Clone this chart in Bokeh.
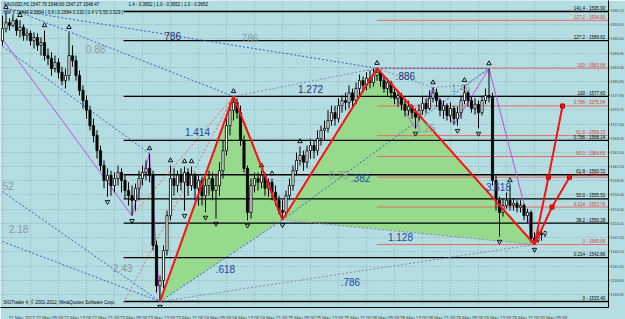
from bokeh.plotting import figure
from bokeh.models import FixedTicker, Label, ColumnDataSource
from bokeh.core.properties import value
from bokeh.embed import file_html
from bokeh.resources import INLINE

# ---------------- data ----------------
opens = [1589.6,1592.2,1593.5,1592.9,1594.0,1591.8,1592.5,1590.7,1591.2,1589.6,
         1590.3,1588.6,1589.2,1586.4,1585.8,1583.6,1584.9,1582.8,1581.0,1582.1,
         1586.4,1585.3,1582.1,1578.9,1576.7,1574.6,1571.3,1569.2,1565.9,1562.7,
         1559.5,1560.6,1558.4,1559.9,1561.2,1559.5,1557.3,1556.2,1555.2,1557.8,
         1559.9,1561.2,1562.1,1560.6,1545.5,1536.8,1537.9,1544.4,1551.9,1559.9,
         1558.4,1560.6,1559.1,1561.2,1558.4,1560.6,1557.8,1559.5,1556.2,1558.4,
         1559.9,1557.3,1558.4,1561.6,1565.9,1571.3,1574.6,1576.3,1574.1,1568.1,
         1562.1,1552.6,1558.4,1559.9,1559.1,1560.6,1557.8,1559.1,1556.9,1555.2,
         1553.0,1552.6,1556.2,1558.4,1561.6,1563.8,1564.9,1563.4,1565.9,1567.0,
         1565.9,1568.5,1570.3,1570.7,1572.4,1574.1,1572.8,1575.6,1576.7,1576.3,
         1578.4,1576.7,1579.3,1581.0,1580.0,1581.5,1580.6,1582.1,1582.8,1581.0,
         1579.3,1580.6,1578.4,1577.2,1577.8,1575.9,1574.6,1575.4,1574.1,1573.1,
         1574.6,1576.1,1575.0,1577.2,1578.4,1576.7,1574.6,1575.6,1573.5,1575.0,
         1572.8,1574.1,1576.7,1578.4,1576.7,1575.0,1575.9,1574.1,1576.7,1577.8,
         1577.4,1559.5,1555.2,1552.6,1554.1,1555.2,1554.1,1554.5,1553.7,1554.1,
         1551.9,1552.6,1547.0,1546.5,1548.1,1547.79]
highs = [1595.0,1595.7,1594.4,1595.3,1594.4,1594.0,1593.1,1592.2,1591.8,1591.4,
         1591.2,1590.3,1591.8,1587.9,1587.1,1586.4,1585.8,1584.0,1583.6,1591.4,
         1588.6,1586.4,1583.2,1580.0,1577.8,1575.6,1572.8,1570.3,1567.0,1563.8,
         1562.1,1561.6,1561.2,1562.7,1562.1,1560.6,1559.1,1558.4,1558.8,1561.6,
         1562.7,1563.8,1565.3,1561.6,1546.5,1539.0,1545.5,1553.0,1562.7,1562.1,
         1561.6,1562.1,1562.5,1562.1,1562.5,1561.2,1560.6,1560.3,1559.9,1561.6,
         1561.2,1560.6,1563.4,1568.1,1572.8,1576.3,1577.6,1577.2,1575.6,1569.2,
         1562.7,1559.9,1561.2,1561.2,1561.6,1561.2,1559.9,1559.9,1558.4,1556.2,
         1555.2,1557.3,1559.9,1562.7,1565.5,1566.8,1565.9,1567.0,1568.5,1568.1,
         1570.3,1571.3,1572.4,1574.6,1575.6,1575.6,1577.2,1577.8,1578.4,1580.0,
         1579.3,1580.6,1582.3,1581.9,1582.8,1583.2,1583.6,1583.68,1583.2,1581.9,
         1581.5,1581.0,1579.7,1578.9,1578.4,1576.7,1576.7,1575.9,1575.0,1575.9,
         1577.6,1577.2,1578.9,1579.5,1579.3,1577.2,1576.7,1576.1,1576.3,1575.6,
         1575.4,1577.8,1580.0,1578.9,1577.6,1577.2,1576.7,1577.8,1579.3,1583.6,
         1578.4,1560.6,1556.0,1555.6,1556.9,1558.4,1555.6,1555.2,1555.2,1554.5,
         1553.4,1553.0,1548.3,1549.1,1548.7,1548.60]
lows = [1588.6,1591.4,1591.8,1592.5,1590.7,1590.3,1589.6,1589.6,1588.6,1587.9,
        1587.5,1586.4,1585.3,1584.3,1582.1,1582.8,1581.5,1580.0,1579.3,1581.0,
        1584.0,1581.0,1577.8,1575.0,1572.8,1570.3,1567.7,1564.2,1561.6,1557.8,
        1556.0,1556.2,1556.9,1558.4,1556.9,1555.6,1554.1,1551.9,1553.0,1555.2,
        1558.4,1559.5,1559.1,1544.4,1535.3,1533.4,1536.2,1543.3,1550.9,1556.2,
        1556.9,1557.3,1553.0,1556.2,1557.3,1555.2,1554.1,1554.1,1552.6,1556.2,
        1555.2,1551.3,1556.2,1559.9,1564.9,1569.2,1572.4,1572.8,1567.0,1561.2,
        1550.9,1551.3,1556.9,1557.3,1557.8,1556.2,1556.0,1555.2,1554.1,1552.2,
        1551.0,1551.9,1555.2,1557.3,1560.6,1562.7,1561.6,1562.1,1564.2,1564.2,
        1564.9,1567.0,1568.1,1569.8,1571.3,1571.3,1572.0,1574.1,1574.6,1575.0,
        1575.0,1575.9,1577.8,1578.4,1578.9,1579.3,1579.7,1581.0,1579.7,1578.4,
        1577.8,1577.2,1575.9,1575.4,1574.6,1573.3,1573.5,1572.8,1570.7,1572.4,
        1573.7,1573.9,1574.6,1576.3,1575.4,1573.3,1572.8,1572.4,1572.0,1571.5,
        1571.3,1572.8,1575.9,1575.4,1574.1,1573.7,1570.7,1573.5,1575.9,1576.3,
        1558.4,1553.0,1547.4,1551.7,1553.4,1553.0,1553.0,1552.6,1552.6,1550.9,
        1550.4,1546.1,1545.68,1546.0,1546.5,1547.27]
closes = [1592.2,1593.5,1592.9,1594.0,1591.8,1592.5,1590.7,1591.2,1589.6,1590.3,
          1588.6,1589.2,1586.4,1585.8,1583.6,1584.9,1582.8,1581.0,1582.1,1586.4,
          1585.3,1582.1,1578.9,1576.7,1574.6,1571.3,1569.2,1565.9,1562.7,1559.5,
          1560.6,1558.4,1559.9,1561.2,1559.5,1557.3,1556.2,1555.2,1557.8,1559.9,
          1561.2,1562.1,1560.6,1545.5,1536.8,1537.9,1544.4,1551.9,1559.9,1558.4,
          1560.6,1559.1,1561.2,1558.4,1560.6,1557.8,1559.5,1556.2,1558.4,1559.9,
          1557.3,1558.4,1561.6,1565.9,1571.3,1574.6,1576.3,1574.1,1568.1,1562.1,
          1552.6,1558.4,1559.9,1559.1,1560.6,1557.8,1559.1,1556.9,1555.2,1553.0,
          1552.6,1556.2,1558.4,1561.6,1563.8,1564.9,1563.4,1565.9,1567.0,1565.9,
          1568.5,1570.3,1570.7,1572.4,1574.1,1572.8,1575.6,1576.7,1576.3,1578.4,
          1576.7,1579.3,1581.0,1580.0,1581.5,1580.6,1582.1,1582.8,1581.0,1579.3,
          1580.6,1578.4,1577.2,1577.8,1575.9,1574.6,1575.4,1574.1,1573.1,1574.6,
          1576.1,1575.0,1577.2,1578.4,1576.7,1574.6,1575.6,1573.5,1575.0,1572.8,
          1574.1,1576.7,1578.4,1576.7,1575.0,1575.9,1574.1,1576.7,1577.8,1577.4,
          1559.5,1555.2,1552.6,1554.1,1555.2,1554.1,1554.5,1553.7,1554.1,1551.9,
          1552.6,1547.0,1546.5,1548.1,1547.8,1548.47]

time_labels = ["21 May 2012", "22 May 05:00", "22 May 13:00", "22 May 21:00",
               "23 May 05:00", "23 May 13:00", "23 May 21:00", "24 May 05:00",
               "24 May 13:00", "24 May 21:00", "25 May 05:00", "25 May 13:00",
               "25 May 21:00", "28 May 05:00", "28 May 13:00", "28 May 21:00",
               "29 May 05:00", "29 May 13:00", "29 May 21:00", "30 May 05:00"]
time_label_bars = [0, 8, 16, 24, 32, 40, 48, 56, 64, 72, 80, 88, 96, 104,
                   112, 120, 128, 136, 144, 152]
price_ticks = [1596.15, 1593.05, 1590.00, 1586.95, 1583.90, 1580.85, 1577.80,
               1574.75, 1571.60, 1568.55, 1565.50, 1562.50, 1559.40, 1556.40,
               1553.30, 1550.25, 1547.20, 1544.10, 1541.05, 1538.00, 1534.95,
               1531.90]

black_levels = [1533.40, 1542.86, 1550.28, 1555.50, 1560.72, 1568.14, 1577.60,
                1589.62, 1595.90]
black_level_names = ["0 - 1533.40", "0.214 - 1542.86", "38.2 - 1550.28",
                     "50.0 - 1555.50", "61.8 - 1560.72", "0.786 - 1568.14",
                     "100 - 1577.60", "127.2 - 1589.62", "141.4 - 1595.90"]
red_levels = [1545.68, 1553.76, 1560.20, 1564.65, 1569.15, 1575.54, 1583.68,
              1594.00]
red_level_names = ["0 - 1545.68", "0.214 - 1553.76", "38.2 - 1560.20",
                   "50.0 - 1564.65", "61.8 - 1569.15", "0.786 - 1575.54",
                   "100 - 1583.68", "127.2 - 1594.00"]

# XABCD pattern points
pat_bars = [45, 66, 80, 107, 152]
pat_prices = [1533.40, 1577.60, 1551.00, 1583.68, 1545.68]
proj1_bars = [152, 156, 160]
proj1_prices = [1545.68, 1560.20, 1575.54]
proj2_bars = [152, 157, 162]
proj2_prices = [1545.68, 1553.76, 1560.20]

zig_bars = [0, 37, 42, 45, 66, 80, 107, 118, 123, 129, 139, 152]
zig_prices = [1589.9, 1551.9, 1565.3, 1533.4, 1577.6, 1551.0, 1583.68, 1570.7,
              1579.5, 1571.5, 1583.6, 1545.68]

blue_dotted = [((1, 1596.5), (107, 1583.68)), ((5, 1595.7), (66, 1577.6)),
               ((0, 1588.4), (42, 1565.3)), ((0, 1557.1), (45, 1533.4)),
               ((0, 1546.3), (45, 1533.4)), ((45, 1533.4), (80, 1551.0)),
               ((80, 1551.0), (139, 1583.6)), ((107, 1583.68), (139, 1583.6))]
gray_dotted = [((66, 1577.6), (107, 1583.68)), ((80, 1551.0), (152, 1545.68)),
               ((45, 1533.4), (152, 1545.68)), ((107, 1583.68), (123, 1579.5)),
               ((123, 1579.5), (132, 1580.0)), ((132, 1580.0), (139, 1583.6))]
pink_dotted = [((34.6, 1533.2), (66, 1577.6)), ((37, 1551.9), (66, 1577.6))]

frac_up = [1, 5, 12, 19, 42, 48, 52, 54, 66, 74, 77, 85, 107, 123, 132, 139, 145]
frac_dn = [30, 37, 45, 52, 58, 61, 70, 80, 118, 130, 136, 142, 152]

ratio_labels = [  # (bar, price, text, colour)
    (48.6, 1590.7, "786", "#1c2a7a"), (26.6, 1587.9, "0.88", "#8a98a2"),
    (70.3, 1590.1, ".786", "#8a98a2"), (88.0, 1579.3, "1.272", "#1c2a7a"),
    (55.7, 1570.0, "1.414", "#2444a8"), (115.1, 1582.1, ".886", "#1c2a7a"),
    (120.9, 1570.9, "1.25", "#8a98a2"), (130.9, 1579.5, "1.46", "#8a98a2"),
    (102.3, 1560.1, ".382", "#2444a8"), (96.0, 1560.6, "0.75", "#8a98a2"),
    (141.7, 1558.0, "3.618", "#2444a8"), (113.7, 1547.2, "1.128", "#2444a8"),
    (63.7, 1540.5, ".618", "#2444a8"), (99.4, 1537.5, ".786", "#2444a8"),
    (34.3, 1540.7, "2.43", "#8a98a2"), (4.6, 1549.1, "2.18", "#8a98a2"),
    (1.6, 1558.4, "52", "#8a98a2"),
]

title_line1 = "XAUUSD,H1  1547.79 1548.60 1547.27 1548.47"
title_line2 = "HW V 14442   0.5894 | 0.6 | 0.2894   0.130 | 0.4 V 5.55   0.529 |"
title_line3 = "1.4 - 0.3652 | 1.0 - 0.3652 | 1.0 - 0.3652"
copyright_text = "SIGTrader 4, © 2001-2012, MetaQuotes Software Corp."
bid_price = 1548.47

# ---------------- styling ----------------
BG = "#b3dde1"
FONT = "Liberation Sans"
X0, X1 = -0.571, 173.14
Y0, Y1 = 1532.11, 1598.27

p = figure(frame_width=608, frame_height=307, x_range=(X0, X1), y_range=(Y0, Y1),
           output_backend="svg", toolbar_location=None, y_axis_location="right",
           min_border_left=0, min_border_top=0, min_border_right=0,
           min_border_bottom=0, background_fill_color=BG, border_fill_color=BG,
           outline_line_color=None)

# axes
ya = p.yaxis[0]
ya.ticker = FixedTicker(ticks=price_ticks)
ya.major_label_overrides = {t: f"{t:.2f}" for t in price_ticks}
ya.major_label_text_font_size = "3.7px"
ya.major_label_text_font = FONT
ya.major_label_standoff = 1
ya.major_tick_out = 1
ya.major_tick_in = 0
ya.minor_tick_line_color = None
ya.axis_line_color = "black"

xa = p.xaxis[0]
lab_pos = [b + 5.5 for b in time_label_bars]
xa.ticker = FixedTicker(ticks=lab_pos)
xa.major_label_overrides = {pos: t for pos, t in zip(lab_pos, time_labels)}
xa.major_label_text_font_size = "4.5px"
xa.major_label_text_font = FONT
xa.major_label_standoff = 2
xa.major_tick_line_color = None
xa.minor_tick_line_color = None
xa.axis_line_color = "black"

p.xgrid.ticker = FixedTicker(ticks=time_label_bars)
for g in (p.xgrid[0], p.ygrid[0]):
    g.grid_line_color = "#7ea3a8"
    g.grid_line_dash = "1 2"
    g.grid_line_alpha = 0.8

# green pattern triangles
p.patch([pat_bars[0], pat_bars[1], pat_bars[2]],
        [pat_prices[0], pat_prices[1], pat_prices[2]],
        fill_color="#97da8e", line_color=None)
p.patch([pat_bars[2], pat_bars[3], pat_bars[4]],
        [pat_prices[2], pat_prices[3], pat_prices[4]],
        fill_color="#97da8e", line_color=None)

# level lines
LBL_X = 172.2
p.segment(x0=[34.6] * len(black_levels), y0=black_levels,
          x1=[X1] * len(black_levels), y1=black_levels,
          line_color="black", line_width=1.3)
p.segment(x0=[pat_bars[3]] * len(red_levels), y0=red_levels,
          x1=[X1] * len(red_levels), y1=red_levels,
          line_color="#e36b68", line_width=1)
p.text(x=[LBL_X] * len(black_levels), y=black_levels, text=black_level_names,
       text_align="right", text_baseline="bottom", text_font_size="4.5px",
       text_font=value(FONT), text_color="black", y_offset=-0.5)
p.text(x=[LBL_X] * len(red_levels), y=red_levels, text=red_level_names,
       text_align="right", text_baseline="bottom", text_font_size="4.5px",
       text_font=value(FONT), text_color="#d83a36", y_offset=-0.5)

# dotted connectors
def dotted(pairs, colour):
    p.segment(x0=[a[0] for a, b in pairs], y0=[a[1] for a, b in pairs],
              x1=[b[0] for a, b in pairs], y1=[b[1] for a, b in pairs],
              line_color=colour, line_dash="2 2", line_width=1)

dotted(blue_dotted, "#3a5cc4")
dotted(gray_dotted, "#8c86b4")
dotted(pink_dotted, "#e06a70")

# zigzag
p.line(zig_bars, zig_prices, line_color="#c04ee0", line_width=1)

# candles
idx = list(range(len(closes)))
up = [c >= o for o, c in zip(opens, closes)]
src = ColumnDataSource(dict(
    x=idx, o=opens, h=highs, l=lows, c=closes,
    top=[max(o, c) for o, c in zip(opens, closes)],
    bot=[min(o, c) for o, c in zip(opens, closes)],
    fill=["white" if u else "black" for u in up]))
p.segment(x0="x", y0="h", x1="x", y1="l", source=src, line_color="black",
          line_width=1)
p.vbar(x="x", top="top", bottom="bot", width=0.62, source=src,
       fill_color="fill", line_color="black", line_width=0.8)

# fractal arrows
p.scatter([i for i in frac_up], [highs[i] + 1.1 for i in frac_up],
          marker="triangle", size=4.5, fill_color=None, line_color="black",
          line_width=0.9)
p.scatter([i for i in frac_dn], [lows[i] - 1.1 for i in frac_dn],
          marker="inverted_triangle", size=4.5, fill_color=None,
          line_color="black", line_width=0.9)

# red pattern lines and projections
p.line(pat_bars, pat_prices, line_color="#ff1010", line_width=2)
p.line(proj1_bars, proj1_prices, line_color="#ff1010", line_width=2)
p.line(proj2_bars, proj2_prices, line_color="#ff1010", line_width=2)
p.scatter(proj1_bars[1:] + proj2_bars[1:], proj1_prices[1:] + proj2_prices[1:],
          marker="square", size=4, fill_color="#ff1010", line_color="#c00000")

# ratio labels
p.text(x=[r[0] for r in ratio_labels], y=[r[1] for r in ratio_labels],
       text=[r[2] for r in ratio_labels], text_color=[r[3] for r in ratio_labels],
       text_align="center", text_baseline="middle", text_font_size="10px",
       text_font=value(FONT))

# header / footer texts
for txt, xs, ys in ((title_line1, 3, 303), (title_line2, 3, 295), (title_line3, 128, 303)):
    p.add_layout(Label(x=xs, y=ys, x_units="screen", y_units="screen", text=txt,
                       text_font_size="4.5px", text_font=FONT, text_color="black",
                       text_baseline="middle"))
p.add_layout(Label(x=3, y=5, x_units="screen", y_units="screen",
                   text=copyright_text, text_font_size="4.5px", text_font=FONT,
                   text_color="black", text_baseline="middle"))
p.add_layout(Label(x=X1, y=bid_price, x_offset=1, text=f"{bid_price:.2f}",
                   text_font_size="3.7px", text_font=FONT, text_color="white",
                   background_fill_color="black", text_baseline="middle"))

open("out.html", "w").write(file_html(p, INLINE))
